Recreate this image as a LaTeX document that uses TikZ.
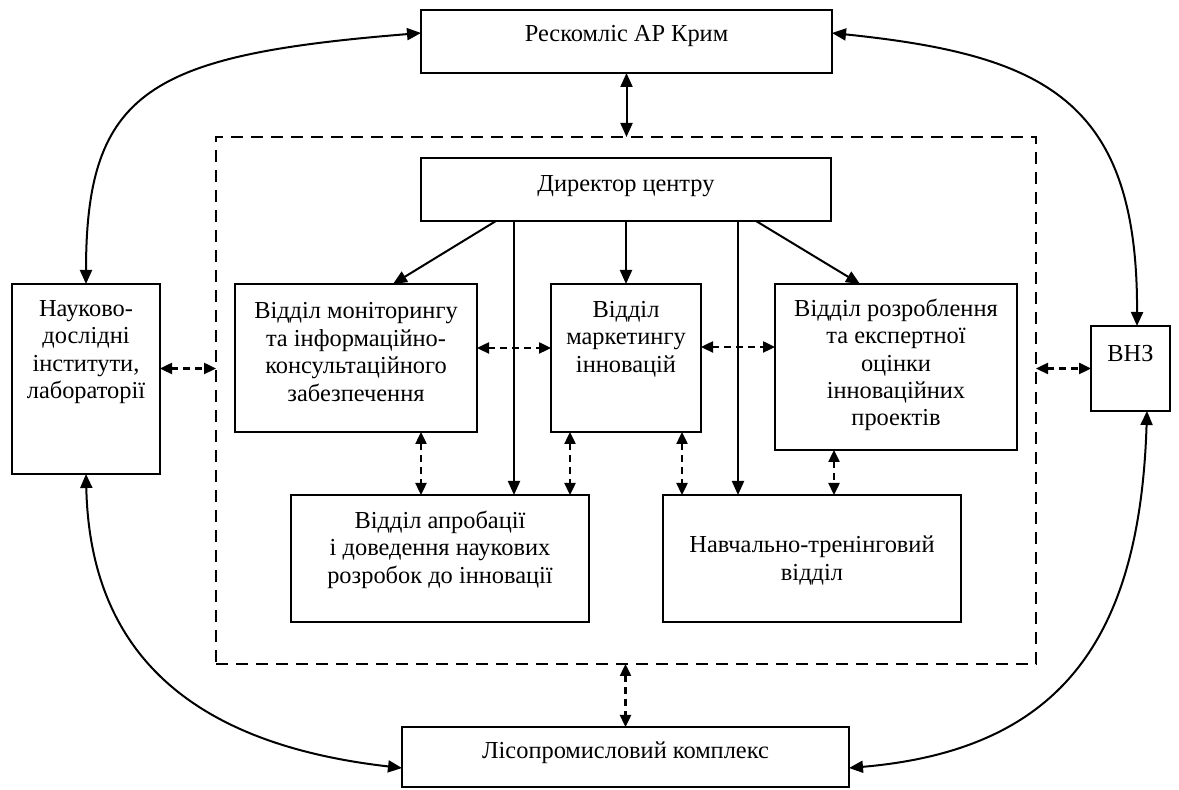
\documentclass[tikz,border=0pt]{standalone}
\usepackage{fontspec}
\setmainfont{Liberation Serif}
\usetikzlibrary{arrows.meta}

\def\tipsize{length=7pt,width=6pt}
\def\dashtip{length=6pt,width=5.5pt}
\tikzset{
  unitbox/.style={draw, line width=0.8pt, inner sep=0pt, outer sep=0pt},
  dashbox/.style={draw, line width=0.7pt, dash pattern=on 6pt off 4pt, inner sep=0pt, outer sep=0pt},
  lbl/.style={align=center, font=\fontsize{12.2}{13.7}\selectfont},
  link/.style={line width=1pt, {Triangle[\tipsize]}-{Triangle[\tipsize]}},
  order/.style={line width=1pt, -{Triangle[\tipsize]}},
  info/.style={line width=1.2pt, dash pattern=on 3.5pt off 2.5pt, {Triangle[\dashtip]}-{Triangle[\dashtip]}}
  }

\begin{document}
\begin{tikzpicture}[x=0.5pt,y=-0.5pt]
   \useasboundingbox (0,0) rectangle (1179,790);

   % centre (dashed frame)
   \node[dashbox, minimum width=410pt, minimum height=263.5pt] (centre) at (626,400.5) {};

   \node[unitbox, minimum width=205.5pt, minimum height=31.5pt,
     label={[lbl,yshift=2.5pt]center:Рескомліс АР Крим}] (resk) at (626.5,41.5) {};
   \node[unitbox, minimum width=205pt, minimum height=31.5pt,
     label={[lbl,yshift=1.5pt]center:Директор центру}] (dir) at (626,189.5) {};

   \node[unitbox, minimum width=121pt, minimum height=74pt,
     label={[lbl,yshift=3pt]center:{Відділ моніторингу\\та інформаційно-\\консультаційного\\забезпечення}}] (mon) at (356,358) {};
   \node[unitbox, minimum width=75pt, minimum height=74pt,
     label={[lbl,yshift=9.5pt]center:{Відділ\\маркетингу\\інновацій}}] (mark) at (626,358) {};
   \node[unitbox, minimum width=121pt, minimum height=83pt,
     label={[lbl,yshift=1pt]center:{Відділ розроблення\\та експертної\\оцінки\\інноваційних\\проектів}}] (rozr) at (896,367) {};

   \node[unitbox, minimum width=149pt, minimum height=63.5pt,
     label={[lbl,yshift=4.5pt]center:{Відділ апробації\\і доведення наукових\\розробок до інновації}}] (apr) at (440,558.5) {};
   \node[unitbox, minimum width=149pt, minimum height=63.5pt,
     label={[lbl,yshift=-1pt]center:{Навчально-тренінговий\\відділ}}] (navch) at (812,558.5) {};

   \node[unitbox, minimum width=74pt, minimum height=95pt,
     label={[lbl,yshift=13.5pt]center:{Науково-\\дослідні\\інститути,\\лабораторії}}] (nauk) at (86,379) {};
   \node[unitbox, minimum width=39.5pt, minimum height=42.5pt,
     label={[lbl,yshift=7.5pt]center:ВНЗ}] (vnz) at (1130.5,368.5) {};
   \node[unitbox, minimum width=223.5pt, minimum height=30pt,
     label={[lbl,yshift=2pt]center:Лісопромисловий комплекс}] (lis) at (625.5,757) {};

   % outer links
   \draw[link] ([yshift=4.25pt]resk.west) .. controls (150,55) and (86,90) .. (nauk.north);
   \draw[link] ([yshift=4.25pt]resk.east) .. controls (1045,55) and (1138,100) .. ([xshift=3.25pt]vnz.north);
   \draw[link] (nauk.south) .. controls (90,660) and (200,745) .. ([yshift=-5.5pt]lis.west);
   \draw[link] ([xshift=8.25pt]vnz.south) .. controls (1140,640) and (1060,750) .. ([yshift=-5.5pt]lis.east);
   \draw[link] (resk.south) -- (resk.south |- centre.north);
   \draw[info] (lis.north |- centre.south) -- (lis.north);
   \draw[info] (nauk.east |- vnz.west) -- (centre.west |- vnz.west);
   \draw[info] (centre.east |- vnz.west) -- (vnz.west);

   % director
   \draw[order] ([xshift=-65pt]dir.south) -- ([xshift=18.5pt]mon.north);
   \draw[order] (dir.south) -- (mark.north);
   \draw[order] ([xshift=65pt]dir.south) -- ([xshift=-18pt]rozr.north);
   \draw[order] ([xshift=-56pt]dir.south) -- ([xshift=-56pt]dir.south |- apr.north);
   \draw[order] ([xshift=56pt]dir.south) -- ([xshift=56pt]dir.south |- navch.north);

   % between departments
   \draw[info] ([yshift=5pt]mon.east) -- ([yshift=5pt]mon.east -| mark.west);
   \draw[info] ([yshift=5.5pt]mark.east) -- ([yshift=5.5pt]mark.east -| rozr.west);
   \draw[info] ([xshift=-9.5pt]apr.north |- mon.south) -- ([xshift=-9.5pt]apr.north);
   \draw[info] ([xshift=65pt]apr.north |- mark.south) -- ([xshift=65pt]apr.north);
   \draw[info] ([xshift=-65pt]navch.north |- mark.south) -- ([xshift=-65pt]navch.north);
   \draw[info] ([xshift=11pt]navch.north |- rozr.south) -- ([xshift=11pt]navch.north);
\end{tikzpicture}
\end{document}
